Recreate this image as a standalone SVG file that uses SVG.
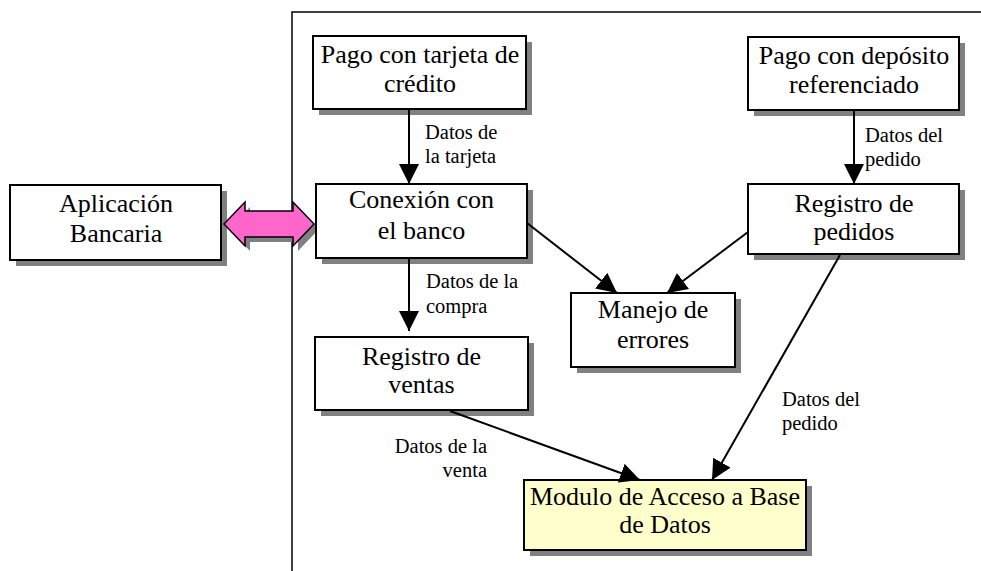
<svg xmlns="http://www.w3.org/2000/svg" width="981" height="571" viewBox="0 0 981 571">
<style>
.box{fill:#fff;stroke:#000;stroke-width:2}
.db{fill:#FFFFCC;stroke:#000;stroke-width:2}
.sh{fill:#808080}
text{font-family:'Liberation Serif',Tinos,'Times New Roman',Times,'DejaVu Serif',serif;fill:#000}
.t{font-size:26px;text-anchor:middle}
.l{font-size:20.5px}
.c{stroke:#000;stroke-width:2;fill:none;marker-end:url(#ah)}
.frame{stroke:#000;stroke-width:1.5;fill:none}
</style>
<defs>
<marker id="ah" markerUnits="userSpaceOnUse" markerWidth="20" markerHeight="20" refX="20" refY="10" orient="auto">
<path d="M0,0 L20,10 L0,20 z" fill="#000"/>
</marker>
</defs>
<rect width="981" height="571" fill="#fff"/>
<path class="frame" d="M292,571 L292,12 L981,12"/>

<g id="aplicacion">
<rect class="sh" x="16" y="191" width="211" height="75"/>
<rect class="box" x="10" y="185" width="211" height="75"/>
<text class="t" x="116" y="212" font-family="Liberation Serif, serif">Aplicación</text>
<text class="t" x="116" y="242" font-family="Liberation Serif, serif">Bancaria</text>
</g>

<g id="doble-flecha">
<polygon class="sh" points="229,229 250,207 250,216 298,216 298,207 319,229 298,251 298,242 250,242 250,251"/>
<polygon points="224,224 245,202 245,211 293,211 293,202 314,224 293,246 293,237 245,237 245,246" fill="#FF66CC" stroke="#000" stroke-width="1.5"/>
</g>

<g id="pago-tarjeta">
<rect class="sh" x="319" y="42" width="213" height="73"/>
<rect class="box" x="313" y="36" width="213" height="73"/>
<text class="t" x="420" y="63">Pago con tarjeta de</text>
<text class="t" x="420" y="92">crédito</text>
</g>

<g id="pago-deposito">
<rect class="sh" x="754" y="43" width="211" height="73"/>
<rect class="box" x="748" y="37" width="211" height="73"/>
<text class="t" x="854" y="64">Pago con depósito</text>
<text class="t" x="854" y="93">referenciado</text>
</g>

<g id="conexion">
<rect class="sh" x="322" y="190" width="211" height="74"/>
<rect class="box" x="316" y="184" width="211" height="74"/>
<text class="t" x="421.5" y="208">Conexión con</text>
<text class="t" x="421.5" y="239">el banco</text>
</g>

<g id="registro-pedidos">
<rect class="sh" x="754" y="190" width="211" height="70"/>
<rect class="box" x="748" y="184" width="211" height="70"/>
<text class="t" x="854" y="212">Registro de</text>
<text class="t" x="854" y="240">pedidos</text>
</g>

<g id="manejo-errores">
<rect class="sh" x="577" y="299" width="164" height="74"/>
<rect class="box" x="571" y="293" width="164" height="74"/>
<text class="t" x="653" y="318">Manejo de</text>
<text class="t" x="653" y="348">errores</text>
</g>

<g id="registro-ventas">
<rect class="sh" x="321" y="343" width="213" height="73"/>
<rect class="box" x="315" y="337" width="213" height="73"/>
<text class="t" x="421.5" y="365">Registro de</text>
<text class="t" x="421.5" y="393">ventas</text>
</g>

<g id="modulo-bd">
<rect class="sh" x="530" y="486" width="282" height="70"/>
<rect class="db" x="524" y="480" width="282" height="70"/>
<text class="t" x="665" y="505">Modulo de Acceso a Base</text>
<text class="t" x="665" y="533">de Datos</text>
</g>

<g id="conectores">
<line class="c" x1="409" y1="110" x2="409" y2="184"/>
<line class="c" x1="854" y1="111" x2="854" y2="184"/>
<line class="c" x1="409" y1="259" x2="409" y2="331"/>
<line class="c" x1="527" y1="223" x2="617" y2="293"/>
<line class="c" x1="748" y1="232" x2="667" y2="293"/>
<line class="c" x1="450" y1="411" x2="640" y2="480"/>
<line class="c" x1="840" y1="255" x2="712" y2="480"/>
<text class="l" x="425" y="139">Datos de</text>
<text class="l" x="425" y="163">la tarjeta</text>
<text class="l" x="865" y="142">Datos del</text>
<text class="l" x="865" y="166">pedido</text>
<text class="l" x="426" y="288">Datos de la</text>
<text class="l" x="426" y="313">compra</text>
<text class="l" x="487" y="453" text-anchor="end">Datos de la</text>
<text class="l" x="487" y="477" text-anchor="end">venta</text>
<text class="l" x="782" y="406">Datos del</text>
<text class="l" x="782" y="430">pedido</text>
</g>
</svg>
